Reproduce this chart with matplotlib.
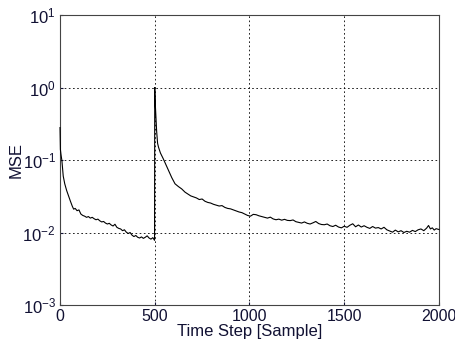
import matplotlib
matplotlib.use("Agg")
from matplotlib import pyplot as plt

plt.rcParams["font.family"] = ["Liberation Sans", "DejaVu Sans"]
plt.rcParams["mathtext.fontset"] = "custom"
plt.rcParams["mathtext.rm"] = "Liberation Sans"
plt.rcParams["mathtext.it"] = "Liberation Sans:italic"

# sample index and MSE
steps = [0, 2, 5, 10, 17, 25, 35, 45, 55, 65, 72, 80, 90, 100, 110, 120, 130,
         140, 150, 160, 170, 180, 190, 200, 210, 220, 230, 240, 250, 260, 270,
         280, 290, 300, 310, 320, 330, 340, 350, 360, 370, 380, 390, 400, 410,
         420, 430, 440, 450, 460, 470, 480, 490, 499,
         500, 502, 506, 510, 515, 520, 530, 545, 560, 572, 590, 607, 625, 642,
         660, 675, 690, 705, 720, 735, 750, 765, 780, 795, 810, 825, 840, 855,
         870, 885, 900, 915, 930, 945, 960, 975, 990, 1005, 1020, 1035, 1050,
         1065, 1080, 1095, 1110, 1125, 1140, 1155, 1170, 1185, 1200, 1215,
         1230, 1245, 1260, 1275, 1290, 1305, 1320, 1335, 1350, 1365, 1380,
         1395, 1410, 1425, 1440, 1455, 1470, 1485, 1500, 1515, 1530, 1545,
         1560, 1575, 1590, 1605, 1620, 1635, 1650, 1665, 1680, 1695, 1710,
         1725, 1740, 1755, 1770, 1785, 1800, 1815, 1830, 1845, 1860, 1875,
         1890, 1905, 1920, 1935, 1945, 1955, 1965, 1975, 1985, 2000]
mse = [0.28, 0.14, 0.12, 0.098, 0.060, 0.047, 0.038, 0.032, 0.027, 0.023,
       0.021, 0.0215, 0.020, 0.0205, 0.018, 0.0172, 0.0168, 0.0162, 0.0166,
       0.0158, 0.0162, 0.0155, 0.0150, 0.0153, 0.0145, 0.0140, 0.0142,
       0.0135, 0.0131, 0.0134, 0.0127, 0.0123, 0.0130, 0.0118, 0.0114,
       0.0112, 0.0106, 0.0109, 0.0101, 0.0097, 0.0100, 0.0092, 0.0088,
       0.0091, 0.0086, 0.0084, 0.0087, 0.0083, 0.0086, 0.0090, 0.0084,
       0.0081, 0.0085, 0.0078,
       1.0, 0.66, 0.40, 0.25, 0.17, 0.15, 0.125, 0.104, 0.085, 0.072, 0.057,
       0.047, 0.043, 0.040, 0.036, 0.034, 0.032, 0.031, 0.030, 0.0285,
       0.029, 0.027, 0.026, 0.0255, 0.0245, 0.0238, 0.0232, 0.0235, 0.0222,
       0.0215, 0.0212, 0.0205, 0.0198, 0.0192, 0.0188, 0.0180, 0.0172,
       0.0168, 0.0178, 0.0176, 0.0170, 0.0166, 0.0162, 0.0158, 0.0163,
       0.0154, 0.0150, 0.0153, 0.0148, 0.0152, 0.0147, 0.0146, 0.0149,
       0.0141, 0.0138, 0.0135, 0.0140, 0.0134, 0.0131, 0.0136, 0.0142,
       0.0133, 0.0129, 0.0128, 0.0131, 0.0124, 0.0121, 0.0126, 0.0119,
       0.0116, 0.0122, 0.0118, 0.0126, 0.0132, 0.0120, 0.0127, 0.0119,
       0.0124, 0.0118, 0.0114, 0.0121, 0.0115, 0.0117, 0.0112, 0.0118,
       0.0109, 0.0105, 0.0101, 0.0108, 0.0102, 0.0106, 0.0100, 0.0104,
       0.0101, 0.0107, 0.0103, 0.0109, 0.0112, 0.0106, 0.0115, 0.0125,
       0.0112, 0.0116, 0.0108, 0.0113, 0.0110]

x_ticks = [0, 500, 1000, 1500, 2000]


def make_plot():
    fig = plt.figure(figsize=(4.56, 3.47), dpi=100)
    ax = fig.add_axes([0.1316, 0.121, 0.831, 0.8357])
    ax.plot(steps, mse, color="black", linewidth=0.8, zorder=3, clip_on=False)
    ax.set_yscale("log")
    ax.set_xlim(0, 2000)
    ax.set_ylim(1e-3, 1e1)
    ax.set_xticks(x_ticks)
    ax.set_yticks([1e-3, 1e-2, 1e-1, 1e0, 1e1])
    ax.minorticks_off()
    ax.grid(True, color="black", linestyle=(0, (2, 3)), linewidth=0.6)
    ax.tick_params(direction="in", length=2, colors="#111133", pad=3)
    ax.tick_params(axis="x", labelsize=11.5)
    ax.tick_params(axis="y", labelsize=12)
    for s in ax.spines.values():
        s.set_color("#444444")
        s.set_linewidth(0.8)
    ax.set_xlabel("Time Step [Sample]", fontsize=12, labelpad=0,
                  color="#111133")
    ax.set_ylabel("MSE", fontsize=12, color="#111133")
    ax.yaxis.set_label_coords(-0.095, 0.5)
    fig.savefig("out.png", dpi=100)


if __name__ == "__main__":
    make_plot()
